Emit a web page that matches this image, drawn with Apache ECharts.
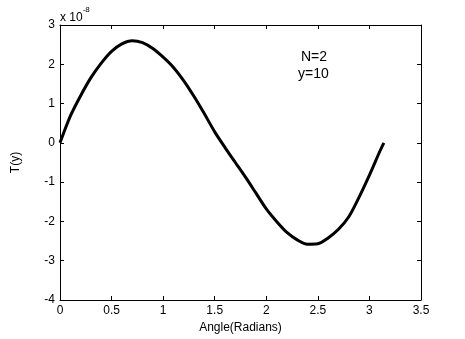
<!DOCTYPE html>
<html>
<head>
<meta charset="utf-8">
<script src="https://cdn.jsdelivr.net/npm/echarts@6/dist/echarts.min.js"></script>
<style>
  html, body { margin: 0; padding: 0; background: #fff; }
  #main { width: 465px; height: 339px; }
</style>
</head>
<body>
<div id="main"></div>
<script>
// values, T(y) in units of 1e-8
var angles = [0, 0.1, 0.2, 0.3, 0.4, 0.5, 0.6, 0.7, 0.8, 0.9, 1.0, 1.1, 1.2, 1.3, 1.4, 1.5,
              1.6, 1.7, 1.8, 1.9, 2.0, 2.1, 2.2, 2.3, 2.4, 2.5, 2.6, 2.7, 2.8, 2.9, 3.0, 3.1, 3.14];
var tValues = [0, 0.68, 1.20, 1.66, 2.03, 2.33, 2.52, 2.60, 2.55, 2.40, 2.18, 1.92, 1.58, 1.18, 0.74, 0.28,
               -0.12, -0.50, -0.88, -1.28, -1.68, -2.00, -2.28, -2.47, -2.58, -2.57, -2.42, -2.20, -1.88, -1.38, -0.82, -0.22, 0];
var xTicks = [0, 0.5, 1, 1.5, 2, 2.5, 3, 3.5];
var yTicks = [-4, -3, -2, -1, 0, 1, 2, 3];

var font = 'Liberation Sans, Arial, sans-serif';
var seriesData = angles.map(function (a, i) { return [a, tValues[i]]; });

var myChart = echarts.init(document.getElementById('main'));

var frameAxis = {
    axisLine: { show: true, onZero: false, lineStyle: { color: '#000', width: 1 } },
    axisTick: { show: true, inside: true, length: 4, lineStyle: { color: '#000' } },
    splitLine: { show: false }
};

option = {
    animation: false,
    backgroundColor: '#fff',
    grid: { left: 60, right: 44, top: 25, bottom: 38 },
    xAxis: [
        Object.assign({
            type: 'value', position: 'bottom',
            min: xTicks[0], max: xTicks[xTicks.length - 1], interval: 0.5,
            name: 'Angle(Radians)', nameLocation: 'middle', nameGap: 22,
            nameTextStyle: { color: '#000', fontFamily: font, fontSize: 12 },
            axisLabel: { color: '#000', fontFamily: font, fontSize: 12, margin: 5 }
        }, frameAxis),
        Object.assign({
            type: 'value', position: 'top',
            min: xTicks[0], max: xTicks[xTicks.length - 1], interval: 0.5,
            axisLabel: { show: false }
        }, frameAxis)
    ],
    yAxis: [
        Object.assign({
            type: 'value', position: 'left',
            min: yTicks[0], max: yTicks[yTicks.length - 1], interval: 1,
            name: 'T(y)', nameLocation: 'middle', nameGap: 38,
            nameTextStyle: { color: '#000', fontFamily: font, fontSize: 12 },
            axisLabel: { color: '#000', fontFamily: font, fontSize: 12, margin: 5 }
        }, frameAxis),
        Object.assign({
            type: 'value', position: 'right',
            min: yTicks[0], max: yTicks[yTicks.length - 1], interval: 1,
            axisLabel: { show: false }
        }, frameAxis)
    ],
    graphic: [
        {
            type: 'text', left: 60, top: 6,
            style: {
                text: '{b|x 10}{s|-8}',
                rich: {
                    b: { fontFamily: font, fontSize: 12, fill: '#000', padding: [6, 0, 0, 0] },
                    s: { fontFamily: font, fontSize: 8, fill: '#000', verticalAlign: 'top', padding: [0, 0, 6, 0] }
                }
            }
        },
        {
            type: 'text', left: 301, top: 50,
            style: { text: 'N=2', fontFamily: font, fontSize: 14, fill: '#000' }
        },
        {
            type: 'text', left: 298, top: 67,
            style: { text: 'y=10', fontFamily: font, fontSize: 14, fill: '#000' }
        }
    ],
    series: [{
        type: 'line',
        xAxisIndex: 0,
        yAxisIndex: 0,
        data: seriesData,
        smooth: 0.3,
        showSymbol: false,
        lineStyle: { color: '#000', width: 3 }
    }]
};
myChart.setOption(option);
</script>
</body>
</html>
